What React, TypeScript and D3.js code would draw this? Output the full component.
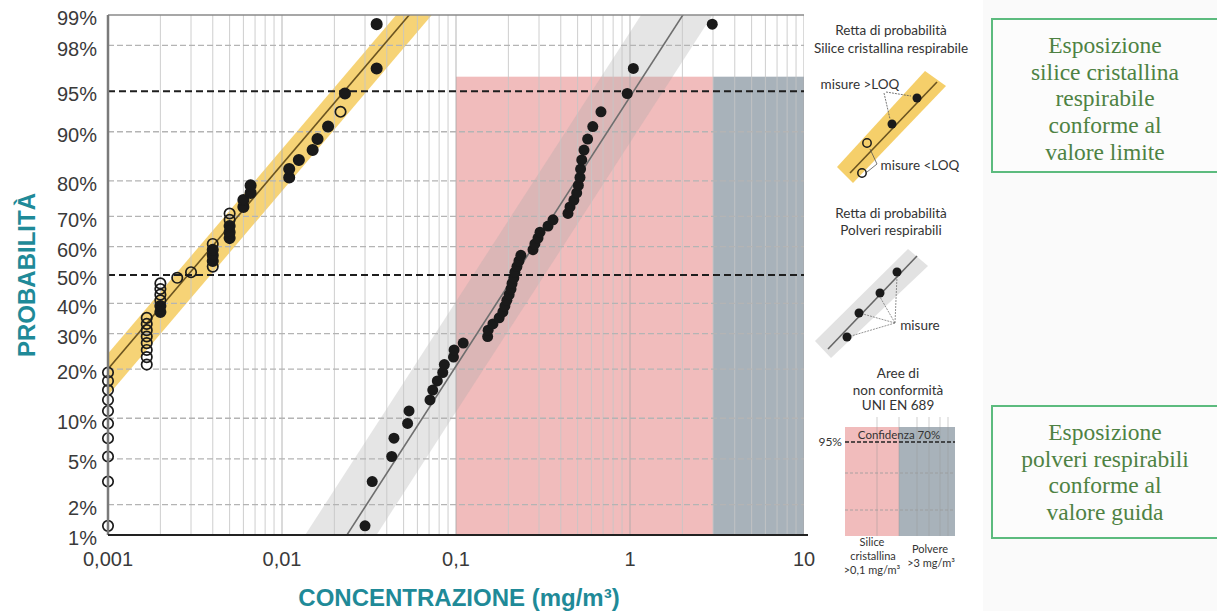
import * as d3 from "d3";

const W = 1217;
const H = 611;
const plot = { left: 108, right: 804, top: 15, bottom: 535 };

const xTicks = [0.001, 0.01, 0.1, 1, 10];
const xTickLabels = ["0,001", "0,01", "0,1", "1", "10"];
const yTicks = [1, 2, 5, 10, 20, 30, 40, 50, 60, 70, 80, 90, 95, 98, 99];
const yRefLines = [50, 95];

// silice cristallina respirabile (mg/m3, probabilità %)
const silicaConc = [
  0.001, 0.001, 0.001, 0.001, 0.001, 0.001, 0.001, 0.001, 0.001, 0.001,
  0.00167, 0.00167, 0.00167, 0.00167, 0.00167, 0.00167, 0.00167, 0.00167,
  0.002, 0.002, 0.002, 0.002, 0.002, 0.002, 0.0025, 0.003,
  0.004, 0.004, 0.004, 0.004, 0.004, 0.005, 0.005, 0.005, 0.005, 0.005,
  0.006, 0.006, 0.0066, 0.0066, 0.011, 0.011, 0.0125, 0.015, 0.016, 0.0184,
  0.0217, 0.023, 0.035, 0.035,
];
const silicaProb = [
  1.24, 3.23, 5.22, 7.21, 9.2, 11.19, 13.18, 15.17, 17.16, 19.15, 21.14,
  23.13, 25.12, 27.11, 29.1, 31.09, 33.08, 35.07, 37.06, 39.05, 41.04, 43.03,
  45.02, 47.01, 49.0, 51.0, 52.99, 54.98, 56.97, 58.96, 60.95, 62.94, 64.93,
  66.92, 68.91, 70.9, 72.89, 74.88, 76.87, 78.86, 80.85, 82.84, 84.83, 86.82,
  88.81, 90.8, 92.79, 94.78, 96.77, 98.76,
];
// 1 = misura >LOQ (pieno), 0 = <LOQ (vuoto)
const silicaAboveLoq = [
  0, 0, 0, 0, 0, 0, 0, 0, 0, 0, 0, 0, 0, 0, 0, 0, 0, 0, 1, 1, 0, 0, 0, 0, 0,
  0, 0, 1, 1, 1, 0, 1, 1, 1, 0, 0, 1, 1, 1, 1, 1, 1, 1, 1, 1, 1, 0, 1, 1, 1,
];

// polveri respirabili
const dustConc = [
  0.03, 0.033, 0.0427, 0.044, 0.0527, 0.0537, 0.0709, 0.0735, 0.0781, 0.0839,
  0.0857, 0.0967, 0.0975, 0.11, 0.152, 0.153, 0.163, 0.177, 0.186, 0.191,
  0.196, 0.202, 0.207, 0.21, 0.215, 0.218, 0.224, 0.23, 0.236, 0.277, 0.284,
  0.296, 0.304, 0.338, 0.361, 0.44, 0.452, 0.476, 0.494, 0.505, 0.516, 0.52,
  0.528, 0.544, 0.571, 0.611, 0.681, 0.964, 1.045, 2.97,
];
const dustProb = silicaProb.slice();

// rette di probabilità (media geometrica, dev. std geometrica, banda in decadi)
const silicaFit = { gm: 0.00288, gsd: 3.52, bandLow: -0.075, bandHigh: 0.13 };
const dustFit = { gm: 0.218, gsd: 2.6, bandLow: -0.24, bandHigh: 0.17 };

const silicaLimit = 0.1;
const dustLimit = 3;
const areaTopProb = 96.2;

const TEAL = "#1f8a98";
const GREEN_TXT = "#4e8243";
const GREEN_BORDER = "#5cbb7e";

function probit(p: number) {
  const a = [-39.69683028665376, 220.9460984245205, -275.9285104469687, 138.357751867269, -30.66479806614716, 2.506628277459239];
  const b = [-54.47609879822406, 161.5858368580409, -155.6989798598866, 66.80131188771972, -13.28068155288572];
  const c = [-0.007784894002430293, -0.3223964580411365, -2.400758277161838, -2.549732539343734, 4.374664141464968, 2.938163982698783];
  const d = [0.007784695709041462, 0.3224671290700398, 2.445134137142996, 3.754408661907416];
  const pl = 0.02425;
  if (p < pl) {
    const q = Math.sqrt(-2 * Math.log(p));
    return (((((c[0] * q + c[1]) * q + c[2]) * q + c[3]) * q + c[4]) * q + c[5]) / ((((d[0] * q + d[1]) * q + d[2]) * q + d[3]) * q + 1);
  }
  if (p > 1 - pl) {
    const q = Math.sqrt(-2 * Math.log(1 - p));
    return -(((((c[0] * q + c[1]) * q + c[2]) * q + c[3]) * q + c[4]) * q + c[5]) / ((((d[0] * q + d[1]) * q + d[2]) * q + d[3]) * q + 1);
  }
  const q = p - 0.5;
  const r = q * q;
  return ((((((a[0] * r + a[1]) * r + a[2]) * r + a[3]) * r + a[4]) * r + a[5]) * q) / (((((b[0] * r + b[1]) * r + b[2]) * r + b[3]) * r + b[4]) * r + 1);
}

const x = d3.scaleLog().domain([0.001, 10]).range([plot.left, plot.right]);
const yz = d3.scaleLinear().domain([probit(0.01), probit(0.99)]).range([plot.bottom, plot.top]);
const y = (pct: number) => yz(probit(pct / 100));

function fitLine(fit: any, shift = 0) {
  const zs = [-3.5, 3.5];
  return zs.map((z) => [x(fit.gm * Math.pow(fit.gsd, z) * Math.pow(10, shift)), yz(z)] as [number, number]);
}

function bandPath(fit: any) {
  const lo = fitLine(fit, fit.bandLow);
  const hi = fitLine(fit, fit.bandHigh);
  return d3.line()([lo[0], lo[1], hi[1], hi[0]]) + "Z";
}

const minorVals: number[] = [];
for (let e = -3; e < 1; e++) {
  for (let k = 1; k < 10; k++) minorVals.push(k * Math.pow(10, e));
}
minorVals.push(10);

const FONT = "'Liberation Sans', Arial, sans-serif";
const LFONT = "Lato, 'Open Sans', sans-serif";

export default function App() {
  const silicaLine = fitLine(silicaFit);
  const dustLine = fitLine(dustFit);
  const gridP = yTicks.filter((p) => p !== 1 && p !== 99 && !yRefLines.includes(p));

  return (
    <svg width={W} height={H} style={{ position: "absolute", left: 0, top: 0, background: "#fff" }}>
      <defs>
        <clipPath id="plotClip">
          <rect x={plot.left} y={plot.top} width={plot.right - plot.left} height={plot.bottom - plot.top} />
        </clipPath>
      </defs>

      <rect x={983} y={0} width={W - 983} height={H} fill="#fafafa" />

      <g clipPath="url(#plotClip)">
        {/* aree di non conformità */}
        <rect x={x(silicaLimit)} y={y(areaTopProb)} width={x(dustLimit) - x(silicaLimit)} height={plot.bottom - y(areaTopProb)} fill="#f1bcbc" />
        <rect x={x(dustLimit)} y={y(areaTopProb)} width={plot.right - x(dustLimit)} height={plot.bottom - y(areaTopProb)} fill="#a8b2ba" />

        {/* bande */}
        <path d={bandPath(silicaFit)} fill="#f5cf6a" opacity={0.92} />
        <path d={bandPath(dustFit)} fill="#a8a8a8" opacity={0.3} />

        {/* griglia */}
        {minorVals.map((v, i) => (
          <line key={"v" + i} x1={x(v)} x2={x(v)} y1={plot.top} y2={plot.bottom}
            stroke={xTicks.includes(v) ? "#a8a8a8" : "#c6c6c6"} strokeOpacity={0.85} strokeWidth={1} />
        ))}
        {gridP.map((p) => (
          <line key={"h" + p} x1={plot.left} x2={plot.right} y1={y(p)} y2={y(p)}
            stroke="#b4b4b4" strokeWidth={1.3} strokeDasharray="6,3" />
        ))}

        {/* rette */}
        <line x1={silicaLine[0][0]} y1={silicaLine[0][1]} x2={silicaLine[1][0]} y2={silicaLine[1][1]} stroke="#6b5420" strokeWidth={1.6} />
        <line x1={dustLine[0][0]} y1={dustLine[0][1]} x2={dustLine[1][0]} y2={dustLine[1][1]} stroke="#6e6e6e" strokeWidth={1.6} />
      </g>

      {yRefLines.map((p) => (
        <line key={"r" + p} x1={plot.left} x2={plot.right} y1={y(p)} y2={y(p)} stroke="#1e1e1e" strokeWidth={2} strokeDasharray="7,4" />
      ))}

      {/* punti */}
      {silicaConc.map((c, i) => (
        <circle key={"s" + i} cx={x(c)} cy={y(silicaProb[i])} r={5.2}
          fill={silicaAboveLoq[i] ? "#1a1a1a" : "none"} stroke="#1a1a1a" strokeWidth={1.7} />
      ))}
      {dustConc.map((c, i) => (
        <circle key={"d" + i} cx={x(c)} cy={y(dustProb[i])} r={5.5} fill="#1a1a1a" />
      ))}

      {/* assi */}
      <line x1={plot.left} x2={plot.right} y1={plot.top} y2={plot.top} stroke="#8a8a8a" strokeWidth={1.5} />
      <line x1={plot.left} x2={plot.left} y1={plot.top} y2={plot.bottom} stroke="#7a7a7a" strokeWidth={2.5} />
      <line x1={plot.left} x2={plot.right + 4} y1={plot.bottom} y2={plot.bottom} stroke="#222" strokeWidth={2} />

      {yTicks.map((p) => (
        <text key={"yl" + p} x={97} y={y(p) + 5} textAnchor="end" dominantBaseline="middle"
          fontFamily={FONT} fontSize={20} fill="#3a3a3a">{p}%</text>
      ))}
      {xTicks.map((v, i) => (
        <text key={"xl" + i} x={x(v)} y={561} textAnchor="middle" dominantBaseline="middle"
          fontFamily={FONT} fontSize={20} fill="#3a3a3a">{xTickLabels[i]}</text>
      ))}

      <text transform="translate(35,275) rotate(-90)" textAnchor="middle" fontFamily={FONT} fontWeight="bold" fontSize={24} fill={TEAL}>PROBABILITÀ</text>
      <text x={459} y={606} textAnchor="middle" fontFamily={FONT} fontWeight="bold" fontSize={24} fill={TEAL}>CONCENTRAZIONE (mg/m³)</text>

      {/* legenda */}
      <g fontFamily={LFONT} fontSize={13.5} fill="#333" textAnchor="middle">
        <text x={891} y={35}>Retta di probabilità</text>
        <text x={891} y={53}>Silice cristallina respirabile</text>

        <path d="M925,71 L946,86 L853,183 L837,167 Z" fill="#f5cf6a" />
        <line x1={850} y1={173} x2={937} y2={82} stroke="#6b5420" strokeWidth={1.6} />
        <circle cx={917} cy={98} r={4.5} fill="#1a1a1a" />
        <circle cx={892} cy={124} r={4.5} fill="#1a1a1a" />
        <circle cx={867} cy={143} r={4.2} fill="none" stroke="#1a1a1a" strokeWidth={1.5} />
        <circle cx={862} cy={173} r={4.2} fill="none" stroke="#1a1a1a" strokeWidth={1.5} />
        <line x1={884} y1={93} x2={890} y2={119} stroke="#555" strokeWidth={0.8} strokeDasharray="2,1" />
        <line x1={886} y1={92} x2={911} y2={96} stroke="#555" strokeWidth={0.8} strokeDasharray="2,1" />
        <line x1={877} y1={164} x2={870} y2={149} stroke="#555" strokeWidth={0.8} />
        <line x1={877} y1={164} x2={867} y2={172} stroke="#555" strokeWidth={0.8} />
        <text x={860} y={89}>misure &gt;LOQ</text>
        <text x={920} y={170}>misure &lt;LOQ</text>

        <text x={891} y={218}>Retta di probabilità</text>
        <text x={891} y={235}>Polveri respirabili</text>

        <path d="M908,249 L928,266 L831,358 L815,341 Z" fill="#e2e2e2" />
        <line x1={828} y1={349} x2={917} y2={256} stroke="#666" strokeWidth={1.6} />
        <circle cx={897} cy={272} r={4.5} fill="#1a1a1a" />
        <circle cx={880} cy={293} r={4.5} fill="#1a1a1a" />
        <circle cx={859} cy={313} r={4.5} fill="#1a1a1a" />
        <circle cx={847} cy={337} r={4.5} fill="#1a1a1a" />
        {[[897, 276], [880, 297], [863, 314], [851, 336]].map((pt, i) => (
          <line key={"ld" + i} x1={895} y1={323} x2={pt[0]} y2={pt[1]} stroke="#666" strokeWidth={0.7} strokeDasharray="2,1" />
        ))}
        <text x={920} y={330}>misure</text>

        <text x={898} y={378}>Aree di</text>
        <text x={898} y={395}>non conformità</text>
        <text x={898} y={410}>UNI EN 689</text>

        <rect x={845} y={427} width={54} height={109} fill="#f1bcbc" />
        <rect x={899} y={427} width={56} height={109} fill="#a8b2ba" />
        {[877, 899, 917, 929, 940, 948].map((lx) => (
          <line key={"mv" + lx} x1={lx} x2={lx} y1={417} y2={536} stroke="#9a9a9a" strokeOpacity={0.6} strokeWidth={0.8} />
        ))}
        {[473, 510].map((ly) => (
          <line key={"mh" + ly} x1={845} x2={955} y1={ly} y2={ly} stroke="#999" strokeWidth={0.8} strokeDasharray="3,2" />
        ))}
        <line x1={845} x2={955} y1={442} y2={442} stroke="#222" strokeWidth={1.3} strokeDasharray="4,2" />
        <text x={899} y={439} fontSize={11.5}>Confidenza 70%</text>
        <text x={842} y={446} fontSize={12} textAnchor="end">95%</text>

        <text x={872} y={546} fontSize={11}>Silice</text>
        <text x={873} y={560} fontSize={11}>cristallina</text>
        <text x={872} y={574} fontSize={11}>&gt;0,1 mg/m³</text>
        <text x={930} y={553} fontSize={11}>Polvere</text>
        <text x={931} y={567} fontSize={11}>&gt;3 mg/m³</text>
      </g>

      {/* riquadri */}
      <rect x={992} y={19} width={240} height={153} fill="#fcfcfc" stroke={GREEN_BORDER} strokeWidth={2} />
      <rect x={992} y={406} width={240} height={132} fill="#fcfcfc" stroke={GREEN_BORDER} strokeWidth={2} />
      <g fontFamily="'Liberation Serif', 'Times New Roman', serif" fontSize={23.5} fill={GREEN_TXT} textAnchor="middle">
        {["Esposizione", "silice cristallina", "respirabile", "conforme al", "valore limite"].map((t, i) => (
          <text key={"b1" + i} x={1105} y={53 + i * 26.7}>{t}</text>
        ))}
        {["Esposizione", "polveri respirabili", "conforme al", "valore guida"].map((t, i) => (
          <text key={"b2" + i} x={1105} y={440 + i * 26.7}>{t}</text>
        ))}
      </g>
    </svg>
  );
}
